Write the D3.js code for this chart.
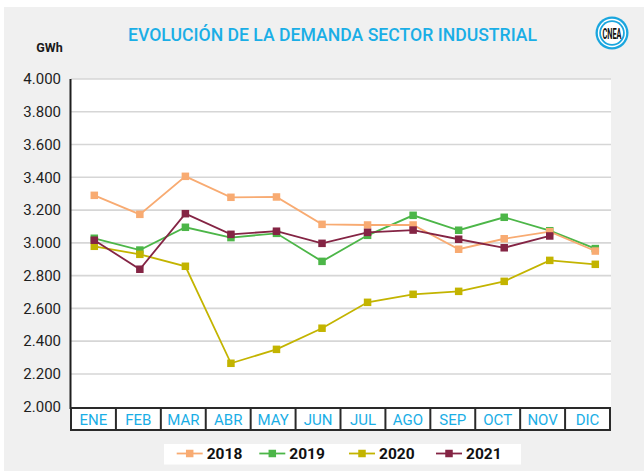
<!DOCTYPE html>
<html><head><meta charset="utf-8">
<script src="https://cdn.jsdelivr.net/npm/d3@7"></script>
<style>html,body{margin:0;padding:0;background:#fff;}svg{display:block;}</style>
</head><body>
<script>
const months = ["ENE","FEB","MAR","ABR","MAY","JUN","JUL","AGO","SEP","OCT","NOV","DIC"];
const yTicks = [2000,2200,2400,2600,2800,3000,3200,3400,3600,3800,4000];
const v2018 = [3290,3174,3406,3278,3280,3113,3109,3109,2961,3025,3068,2950];
const v2019 = [3028,2956,3095,3032,3058,2887,3046,3168,3077,3156,3074,2965];
const v2020 = [2979,2930,2857,2265,2350,2479,2637,2686,2704,2765,2893,2869];
const v2021 = [3016,2839,3178,3052,3071,2997,3064,3078,3022,2970,3042];
const seriesNames = ["2018","2019","2020","2021"];
const seriesColors = ["#f8ab72","#4cb648","#c3b400","#842444"];
const seriesValues = [v2018,v2019,v2020,v2021];
const drawOrder = [1,0,2,3];

const W = 644, H = 471;
const svg = d3.select("body").append("svg").attr("width",W).attr("height",H);

// background panel
svg.append("rect").attr("x",4).attr("y",7).attr("width",W-4).attr("height",H-7).attr("fill","#f0f0f0");

const plot = {l:71, r:611, t:79, b:407};
svg.append("rect").attr("x",plot.l).attr("y",plot.t).attr("width",plot.r-plot.l).attr("height",plot.b-plot.t).attr("fill","#fff");

const y = d3.scaleLinear().domain([2000,4000]).range([406.7,79]);
const x = d3.scalePoint().domain(months).range([94.3,595.3]);
const xb = d3.scaleBand().domain(months).range([71,610]);

// gridlines
svg.append("g").selectAll("line").data(yTicks.filter(d=>d>2000)).join("line")
  .attr("x1",plot.l).attr("x2",plot.r)
  .attr("y1",d=>y(d)).attr("y2",d=>y(d))
  .attr("stroke","#d6d6d6").attr("stroke-width",1.6);

// y axis labels
const yAxis = d3.axisLeft(y).tickValues(yTicks).tickSize(0).tickPadding(10)
  .tickFormat(d => { const s = String(d); return s[0]+"."+s.slice(1); });
const ga = svg.append("g").attr("transform",`translate(${plot.l},0)`).call(yAxis);
ga.select(".domain").remove();
ga.selectAll("text").attr("font-family","Roboto, sans-serif").attr("font-size",15).attr("fill","#1e1e1e").attr("x",-10);

// left axis line
svg.append("line").attr("x1",70.5).attr("x2",70.5).attr("y1",plot.t).attr("y2",409).attr("stroke","#1e1e1e").attr("stroke-width",2);

// month boxes
const gb = svg.append("g");
gb.append("rect").attr("x",71).attr("y",408).attr("width",539).attr("height",22)
  .attr("fill","#fff").attr("stroke","#2a2a2a").attr("stroke-width",2);
gb.selectAll("line.div").data(months.slice(1)).join("line").attr("class","div")
  .attr("x1",d=>xb(d)).attr("x2",d=>xb(d)).attr("y1",408).attr("y2",430)
  .attr("stroke","#2a2a2a").attr("stroke-width",2);
gb.selectAll("text").data(months).join("text")
  .attr("x",d=>xb(d)+xb.bandwidth()/2).attr("y",425)
  .attr("text-anchor","middle").attr("font-family","Roboto, sans-serif").attr("font-size",15)
  .attr("fill","#1aaee6").text(d=>d);

// series
const line = d3.line().x((d,i)=>x(months[i])).y(d=>y(d));
const ms = 7.5;
drawOrder.forEach(k=>{
  const vals = seriesValues[k];
  const g = svg.append("g");
  g.append("path").attr("d",line(vals)).attr("fill","none").attr("stroke",seriesColors[k]).attr("stroke-width",1.8);
  g.selectAll("rect").data(vals).join("rect")
    .attr("x",(d,i)=>x(months[i])-ms/2).attr("y",d=>y(d)-ms/2)
    .attr("width",ms).attr("height",ms).attr("fill",seriesColors[k]);
});

// title
svg.append("text").attr("x",332.5).attr("y",41).attr("text-anchor","middle")
  .attr("font-family","Roboto, sans-serif").attr("font-weight",500).attr("font-size",17.5)
  .attr("fill","#1aaee6").attr("textLength",409).attr("lengthAdjust","spacingAndGlyphs")
  .text("EVOLUCIÓN DE LA DEMANDA SECTOR INDUSTRIAL");

// unit
svg.append("text").attr("x",49.5).attr("y",52).attr("text-anchor","middle")
  .attr("font-family","Roboto, sans-serif").attr("font-weight",700).attr("font-size",12.5)
  .attr("fill","#1a1a1a").text("GWh");

// logo
const lg = svg.append("g").attr("transform","translate(612,33)");
lg.append("circle").attr("r",16.5).attr("fill","#1aa6de");
lg.append("circle").attr("r",14.2).attr("fill","#fff");
lg.append("circle").attr("r",12.8).attr("fill","#1aa6de");
lg.append("circle").attr("r",11).attr("fill","#fff");
lg.append("text").attr("y",5.5).attr("text-anchor","middle").attr("font-family","Roboto, sans-serif")
  .attr("font-weight",700).attr("font-size",15).attr("fill","#111")
  .attr("textLength",19).attr("lengthAdjust","spacingAndGlyphs").text("CNEA");

// legend
svg.append("rect").attr("x",164).attr("y",444).attr("width",357).attr("height",20.5).attr("fill","#fff");
const legX = [176.7,259.3,349,436];
seriesNames.forEach((n,k)=>{
  const g = svg.append("g").attr("transform",`translate(${legX[k]},453.5)`);
  g.append("line").attr("x1",0).attr("x2",26).attr("stroke",seriesColors[k]).attr("stroke-width",1.8);
  g.append("rect").attr("x",13-ms/2).attr("y",-ms/2).attr("width",ms).attr("height",ms).attr("fill",seriesColors[k]);
  g.append("text").attr("x",30).attr("y",5.5).attr("font-family","Roboto, sans-serif").attr("font-weight",700)
    .attr("font-size",15.5).attr("fill","#111").text(n);
});
</script>
</body></html>
